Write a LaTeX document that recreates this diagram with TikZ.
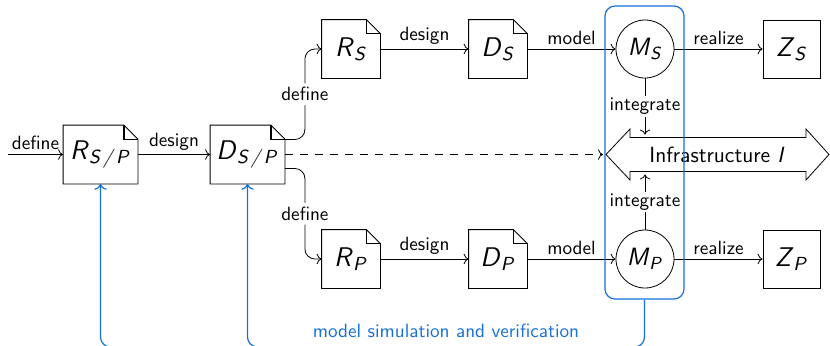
\documentclass[tikz,border=0pt]{standalone}
\usetikzlibrary{arrows.meta}
\definecolor{bluec}{RGB}{22,112,214}
\newcommand\symb[2]{\textit{#1}\textsubscript{\textit{#2}}}
\begin{document}
\begin{tikzpicture}[x=0.5pt,y=-0.5pt,
  font=\sffamily\fontsize{9.6}{11}\selectfont,
  lbl/.style={font=\sffamily\fontsize{9.6}{11}\selectfont, inner sep=2pt},
  docbox/.style={draw=none, minimum width=29pt, minimum height=29pt, inner sep=0pt, font=\sffamily\fontsize{13.5}{16}\selectfont},
  wdocbox/.style={docbox, minimum width=37pt},
  plainbox/.style={draw, minimum width=28.5pt, minimum height=29pt, inner sep=0pt, font=\sffamily\fontsize{13.5}{16}\selectfont},
  model/.style={draw, circle, minimum size=29pt, inner sep=0pt, font=\sffamily\fontsize{12.5}{15}\selectfont},
  conn/.style={->},
  blueline/.style={draw=bluec, line width=0.6pt}
]
\useasboundingbox (0,0) rectangle (830,345);

% documents
\node[wdocbox] (RSP) at (100.5,154.5) {\symb{R}{S\,/\,P}};
\node[wdocbox] (DSP) at (247.5,154.5) {\symb{D}{S\,/\,P}};
\node[docbox] (RS) at (351,49) {\symb{R}{S}};
\node[docbox] (DS) at (498,49) {\symb{D}{S}};
\node[docbox] (RP) at (351,259) {\symb{R}{P}};
\node[docbox] (DP) at (498,259) {\symb{D}{P}};
\foreach \n in {RSP,DSP,RS,DS,RP,DP}{
  \draw (\n.south west) -- (\n.north west) -- ([xshift=-7pt]\n.north east)
        -- ([yshift=-7pt]\n.north east) -- (\n.south east) -- cycle;
  \draw[line width=0.6pt] ([xshift=-7pt]\n.north east) -- ([xshift=-7pt,yshift=-7pt]\n.north east)
        -- ([yshift=-7pt]\n.north east);
}

% realisations
\node[plainbox] (ZS) at (791.5,49) {\symb{Z}{S}};
\node[plainbox] (ZP) at (791.5,259) {\symb{Z}{P}};

% models
\node[model] (MS) at (645,49) {\symb{M}{S}};
\node[model] (MP) at (645,259) {\symb{M}{P}};

% infrastructure
\draw (606,154.5) -- (630,129) -- (630,137.5) -- (806,137.5) -- (806,129)
      -- (829,154.5) -- (806,180) -- (806,171.5) -- (630,171.5) -- (630,180) -- cycle;
\node[font=\sffamily\fontsize{11}{13}\selectfont] (infra) at (717,154.5) {Infrastructure \textit{I}};
\coordinate (itip) at (603,154.5);
\coordinate (itop) at (645,134.5);
\coordinate (ibot) at (645,174.5);
\coordinate (start) at (8,154.5);

% connectors
\draw[conn] (start) -- node[lbl,above]{define} (RSP);
\draw[conn] (RSP) -- node[lbl,above]{design} (DSP);
\draw[conn,rounded corners=5pt] ([yshift=7.5pt]DSP.east) -- ++(10pt,0)
      |- node[lbl,pos=0.25,fill=white]{define} (RS.west);
\draw[conn,rounded corners=5pt] ([yshift=-7pt]DSP.east) -- ++(10pt,0)
      |- node[lbl,pos=0.25,fill=white]{define} (RP.west);
\draw[conn,dash pattern=on 4pt off 3.5pt] (DSP) -- (itip);

\draw[conn] (RS) -- node[lbl,above]{design} (DS);
\draw[conn] (DS) -- node[lbl,above]{model} (MS);
\draw[conn] (MS) -- node[lbl,above]{realize} (ZS);
\draw[conn] (RP) -- node[lbl,above]{design} (DP);
\draw[conn] (DP) -- node[lbl,above]{model} (MP);
\draw[conn] (MP) -- node[lbl,above]{realize} (ZP);

\draw[conn] (MS) -- node[lbl,fill=white,inner sep=1pt]{integrate} (itop);
\draw[conn] (MP) -- node[lbl,fill=white,inner sep=1pt]{integrate} (ibot);

% simulation / verification frame
\node[blueline, rounded corners=5pt, minimum width=39.5pt, minimum height=146.5pt] (vbox) at (644.5,152.5) {};
\coordinate (bot) at (644.5,347);
\draw[blueline,->,rounded corners=5pt] (vbox.south) -- (bot) -| (RSP.south);
\draw[blueline,->,rounded corners=5pt] (bot) -| (DSP.south);
\node[lbl,text=bluec] (simtext) at (446,331) {model simulation and verification};
\end{tikzpicture}
\end{document}
